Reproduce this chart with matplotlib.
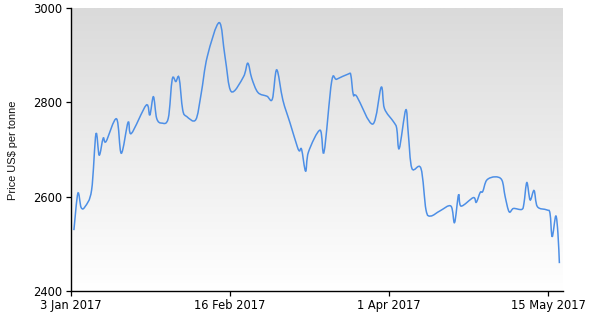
import numpy as np
import matplotlib
matplotlib.use("Agg")
import matplotlib.pyplot as plt
from matplotlib.path import Path
from matplotlib.patches import PathPatch

# Days since 3 Jan 2017 and price (US$ per tonne)
days = [0.8, 1.9, 2.8, 3.9, 5.7, 6.9, 7.8, 8.9, 9.7, 12.6, 13.9, 15.8, 16.7,
        20.8, 21.8, 22.8, 23.7, 25.1, 26.9, 28.0, 29.0, 29.9, 30.9, 32.0,
        34.5, 36.0, 37.7, 41.0, 42.6, 44.3, 47.7, 48.9, 50.0, 51.7, 54.2,
        55.7, 56.9, 58.6, 60.6, 62.6, 63.2, 63.8, 64.9, 65.7, 68.9, 70.0,
        72.1, 73.5, 76.7, 77.4, 78.1, 79.1, 83.5, 85.8, 86.7, 89.2, 90.1,
        90.8, 92.6, 93.3, 94.3, 96.8, 98.2, 99.5, 102.1, 105.1, 106.1, 107.2,
        107.9, 111.3, 112.1, 113.2, 113.9, 115.0, 117.3, 119.2, 120.1, 121.2,
        122.4, 124.7, 125.3, 126.1, 127.0, 128.1, 129.0, 131.6, 132.5, 133.1,
        134.1, 134.7, 135.1]
prices = [2529, 2607, 2577, 2579, 2614, 2733, 2688, 2724, 2717, 2765, 2692,
          2758, 2734, 2794, 2773, 2812, 2766, 2756, 2766, 2849, 2844, 2852,
          2784, 2770, 2763, 2818, 2897, 2969, 2897, 2823, 2854, 2883, 2851,
          2821, 2813, 2807, 2869, 2805, 2756, 2706, 2697, 2700, 2654, 2695,
          2741, 2695, 2844, 2849, 2860, 2858, 2816, 2812, 2754, 2832, 2787,
          2759, 2745, 2702, 2784, 2734, 2660, 2660, 2572, 2559, 2570, 2580,
          2545, 2604, 2580, 2598, 2588, 2609, 2611, 2635, 2642, 2635, 2600,
          2568, 2575, 2573, 2586, 2630, 2593, 2613, 2579, 2572, 2565, 2515,
          2559, 2522, 2459]

tick_days = [0, 44, 88, 132]
tick_labels = ["3 Jan 2017", "16 Feb 2017", "1 Apr 2017", "15 May 2017"]
y_ticks = [2400, 2600, 2800, 3000]

fig = plt.figure(figsize=(5.9, 3.19), dpi=100)
ax = fig.add_axes([71/590, 28/319, (563-71)/590, (291-8)/319])

ax.set_xlim(0, 136.1)
ax.set_ylim(2400, 3000)

# gradient background
grad = np.linspace(0, 1, 256).reshape(-1, 1)
top = np.array([218, 218, 218]) / 255
bot = np.array([255, 255, 255]) / 255
img = top + (bot - top) * grad[:, :, None]
ax.imshow(img, extent=[0, 1, 0, 1], transform=ax.transAxes, aspect='auto',
          origin='upper', zorder=0)

# smooth spline rendering through the data points (Bezier path)
x = np.array(days, dtype=float)
y = np.array(prices, dtype=float)
n = len(x)
verts = [(x[0], y[0])]
codes = [Path.MOVETO]
for i in range(n - 1):
    p0 = np.array([x[max(i-1, 0)], y[max(i-1, 0)]])
    p1 = np.array([x[i], y[i]])
    p2 = np.array([x[i+1], y[i+1]])
    p3 = np.array([x[min(i+2, n-1)], y[min(i+2, n-1)]])
    c1 = p1 + (p2 - p0) / 6.0
    c2 = p2 - (p3 - p1) / 6.0
    verts += [tuple(c1), tuple(c2), tuple(p2)]
    codes += [Path.CURVE4, Path.CURVE4, Path.CURVE4]
patch = PathPatch(Path(verts, codes), facecolor='none', edgecolor='#4d8fe6',
                  lw=1.1, zorder=3)
ax.add_patch(patch)

for s in ['top', 'right']:
    ax.spines[s].set_visible(False)
for s in ['left', 'bottom']:
    ax.spines[s].set_color('black')
    ax.spines[s].set_linewidth(1.0)

ax.set_xticks(tick_days)
ax.set_xticklabels(tick_labels, fontsize=8.3, family='DejaVu Sans')
ax.set_yticks(y_ticks)
ax.set_yticklabels([str(v) for v in y_ticks], fontsize=8.3, family='DejaVu Sans')
ax.tick_params(axis='both', direction='out', length=3.5, width=0.9, colors='black', pad=2)
ax.tick_params(axis='y', pad=2.5)

fig.text(13/590, 1 - 150/319, "Price US$ per tonne", rotation=90, ha='center',
         va='center', fontsize=7.9, family='Liberation Sans', color='#111111')

fig.savefig("out.png", dpi=100)
